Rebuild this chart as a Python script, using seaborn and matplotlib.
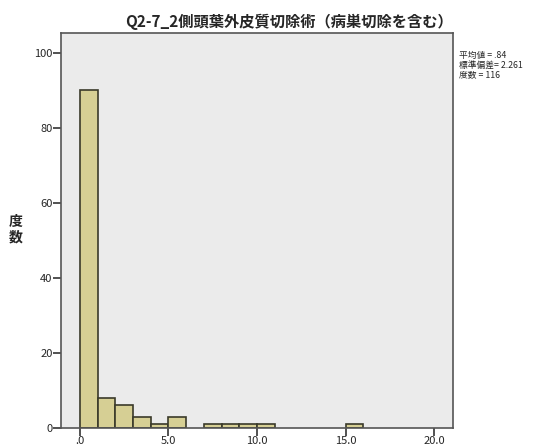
import numpy as np
import pandas as pd
import matplotlib
matplotlib.use("Agg")
import matplotlib.pyplot as plt
import seaborn as sns

# ビンの左端と度数
bin_left = [0, 1, 2, 3, 4, 5, 6, 7, 8, 9, 10, 11, 12, 13, 14, 15]
counts = [90, 8, 6, 3, 1, 3, 0, 1, 1, 1, 1, 0, 0, 0, 0, 1]
xticks = [0, 5, 10, 15, 20]
xtick_labels = [".0", "5.0", "10.0", "15.0", "20.0"]
yticks = [0, 20, 40, 60, 80, 100]
stats_text = "平均値 = .84\n標準偏差= 2.261\n度数 = 116"
title = "Q2-7_2側頭葉外皮質切除術（病巣切除を含む）"

# 個々の値に展開
values = np.repeat(bin_left, counts)
df = pd.DataFrame({"value": values})

sns.set_style("white")
plt.rcParams['font.family'] = ['Noto Sans CJK JP', 'DejaVu Sans']

fig = plt.figure(figsize=(5.38, 4.48), dpi=100)
ax = fig.add_axes([61 / 538, 20 / 448, 392 / 538, 395 / 448])
ax.set_facecolor("#ebebeb")

sns.histplot(data=df, x="value", binwidth=1, binrange=(0, 16), ax=ax,
             color="#d6cf94", edgecolor="#3a3a2a", linewidth=1.2, alpha=1)
# 度数0のビンは描かない
for p in ax.patches:
    if p.get_height() == 0:
        p.set_visible(False)

ax.set_xlim(-1.07, 21.07)
ax.set_ylim(0, 105.3)
ax.set_xticks(xticks)
ax.set_xticklabels(xtick_labels, fontsize=8)
ax.set_yticks(yticks)
ax.set_yticklabels([str(v) for v in yticks], fontsize=8)
ax.tick_params(axis="both", bottom=True, left=True, length=6, width=1.2,
               direction="out", color="#333333", pad=0)
for s in ax.spines.values():
    s.set_color("#555555")
    s.set_linewidth(1.2)

ax.set_xlabel("")
ax.set_ylabel("")
fig.text(289 / 538, 1 - 22 / 448, title, fontsize=11, fontweight="bold",
         ha="center", va="center")
fig.text(16 / 538, 1 - 230 / 448, "度\n数", fontsize=10, fontweight="bold",
         ha="center", va="center", linespacing=1.1)

fig.text(459 / 538, 1 - 51 / 448, stats_text, fontsize=6.3, va="top", ha="left",
         linespacing=1.05)

fig.savefig("out.png", dpi=100)
